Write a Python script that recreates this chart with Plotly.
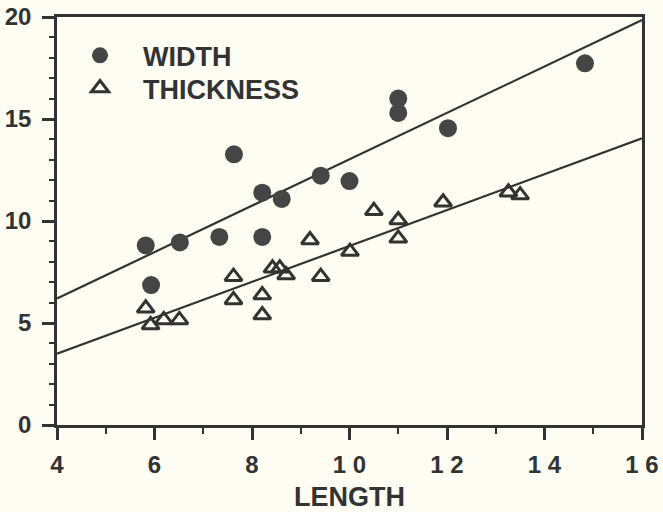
import plotly.graph_objects as go

# WIDTH (filled circles)
width_length = [5.82, 5.93, 6.52, 7.33, 7.63, 8.21, 8.21, 8.61, 9.41, 10.0, 11.0, 11.0, 12.02, 14.83]
width_value = [8.80, 6.86, 8.95, 9.22, 13.27, 11.39, 9.22, 11.08, 12.22, 11.96, 16.00, 15.30, 14.55, 17.73]

# THICKNESS (open triangles)
thick_length = [5.82, 5.92, 6.19, 6.51, 7.62, 7.62, 8.21, 8.21, 8.42, 8.57, 8.70, 9.19, 9.41,
                10.01, 10.50, 11.0, 11.0, 11.92, 13.26, 13.50]
thick_value = [5.72, 4.90, 5.15, 5.15, 7.27, 6.13, 6.37, 5.39, 7.68, 7.68, 7.35, 9.07, 7.27,
               8.50, 10.50, 10.05, 9.15, 10.92, 11.41, 11.27]

# fitted lines (endpoints)
fit_length = [4, 16]
width_fit = [6.2, 19.85]
thick_fit = [3.5, 14.05]

x_tickvals = [4, 6, 8, 10, 12, 14, 16]
x_ticktext = ["4", "6", "8", "1 0", "1 2", "1 4", "1 6"]
y_tickvals = [0, 5, 10, 15, 20]

ink = "#333333"
bg = "#fdfdf3"
font = "Liberation Sans, Arial, sans-serif"

fig = go.Figure()
fig.add_trace(go.Scatter(x=fit_length, y=width_fit, mode="lines",
                         line=dict(color=ink, width=2.2), showlegend=False, hoverinfo="skip"))
fig.add_trace(go.Scatter(x=fit_length, y=thick_fit, mode="lines",
                         line=dict(color=ink, width=2.2), showlegend=False, hoverinfo="skip"))
fig.add_trace(go.Scatter(x=width_length, y=width_value, mode="markers", name="WIDTH",
                         legend="legend",
                         marker=dict(symbol="circle", size=18, color="#454545",
                                     line=dict(width=0))))
fig.add_trace(go.Scatter(x=thick_length, y=thick_value, mode="markers", name="THICKNESS",
                         legend="legend2",
                         marker=dict(symbol="triangle-up-open", size=15, color=ink,
                                     line=dict(width=3, color=ink))))

legend_style = dict(xanchor="left", yanchor="top", bgcolor="rgba(0,0,0,0)",
                    font=dict(size=27, color=ink, weight="bold"), itemwidth=76)

fig.update_layout(
    width=663, height=512,
    margin=dict(l=57, r=21, t=17, b=87),
    paper_bgcolor=bg, plot_bgcolor=bg,
    font=dict(family=font, size=24, color=ink, weight="bold"),
    legend=dict(x=0.0, y=0.965, **legend_style),
    legend2=dict(x=0.0, y=0.885, **legend_style),
    showlegend=True,
)
fig.update_xaxes(
    range=[4, 16], tickmode="array", tickvals=x_tickvals, ticktext=x_ticktext,
    showgrid=False, zeroline=False, showline=True, linecolor=ink, linewidth=2.5,
    mirror=True, ticks="outside", ticklen=12, tickwidth=2.5, tickcolor=ink,
    ticklabelstandoff=4, automargin=False, ticklabeloverflow="allow",
    minor=dict(dtick=1, ticks="outside", ticklen=6, tickwidth=2, tickcolor=ink, showgrid=False),
    title=dict(text="LENGTH", font=dict(size=27, color=ink, weight="bold"), standoff=22),
    tickfont=dict(size=24, color=ink, weight="bold"),
)
fig.update_yaxes(
    range=[0, 20], tickmode="array", tickvals=y_tickvals,
    showgrid=False, zeroline=False, showline=True, linecolor=ink, linewidth=2.5,
    mirror=True, ticks="outside", ticklen=12, tickwidth=2.5, tickcolor=ink,
    ticklabelstandoff=6, automargin=False, ticklabeloverflow="allow",
    minor=dict(dtick=1, ticks="outside", ticklen=5, tickwidth=2, tickcolor=ink, showgrid=False),
    tickfont=dict(size=24, color=ink, weight="bold"),
)

# remove the browser's default 8px body margin so the figure fills the window exactly
fig.write_html("out.html", config={"displayModeBar": False},
               post_script="document.body.style.margin='0';document.body.style.padding='0';")
